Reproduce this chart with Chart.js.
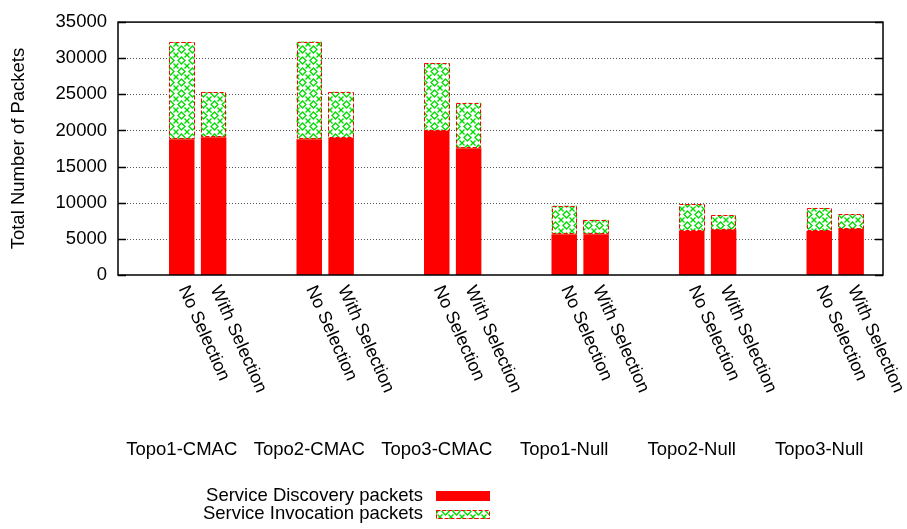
<!DOCTYPE html>
<html>
<head>
<meta charset="utf-8">
<script src="https://cdn.jsdelivr.net/npm/chart.js@4.4.0/dist/chart.umd.min.js"></script>
<style>
  html, body { margin: 0; padding: 0; background: #fff; }
  #wrap { width: 907px; height: 529px; }
</style>
</head>
<body>
<div id="wrap"><canvas id="c" width="907" height="529"></canvas></div>
<script>
// Topologies (one cluster each) and the two configurations inside each cluster
const groups = ['Topo1-CMAC', 'Topo2-CMAC', 'Topo3-CMAC', 'Topo1-Null', 'Topo2-Null', 'Topo3-Null'];
const variants = ['No Selection', 'With Selection'];
const seriesNames = ['Service Discovery packets', 'Service Invocation packets'];

// Packet counts per topology
const discoveryNoSel   = [18800, 18800, 19950, 5630, 6080, 6080];
const discoveryWithSel = [19050, 19000, 17550, 5630, 6260, 6350];
const invocationNoSel   = [13400, 13500, 9350, 3970, 3690, 3200];
const invocationWithSel = [6250, 6350, 6300, 2020, 1980, 2030];

// Y axis ticks
const yTicks = [0, 5000, 10000, 15000, 20000, 25000, 30000, 35000];

const FONT = '"Liberation Sans", Arial, Helvetica, sans-serif';
const FONT_SIZE = 18.5;
const ROT_FONT_SIZE = 18;
const RED = '#ff0000';
const GREEN = '#00dd00';

// slot index on the x axis: each cluster takes four slots, bars in the first two
const slotOf = (g, v) => g * 4 + v;

function buildSeries(noSel, withSel) {
  const pts = [];
  groups.forEach((_, g) => {
    pts.push({ x: slotOf(g, 0), y: noSel[g] });
    pts.push({ x: slotOf(g, 1), y: withSel[g] });
  });
  return pts;
}

// white tile with green diamonds and crosses
function makeHatch() {
  const s = 11;
  const t = document.createElement('canvas');
  t.width = s; t.height = s;
  const c = t.getContext('2d');
  c.fillStyle = '#fff';
  c.fillRect(0, 0, s, s);
  c.strokeStyle = GREEN;
  c.lineWidth = 1.4;
  c.beginPath();
  c.moveTo(5.5, 2); c.lineTo(9, 5.5); c.lineTo(5.5, 9); c.lineTo(2, 5.5); c.closePath();
  c.stroke();
  [[0, 0], [s, 0], [0, s], [s, s]].forEach(([cx, cy]) => {
    c.beginPath();
    c.moveTo(cx - 2.5, cy - 2.5); c.lineTo(cx + 2.5, cy + 2.5);
    c.moveTo(cx + 2.5, cy - 2.5); c.lineTo(cx - 2.5, cy + 2.5);
    c.stroke();
  });
  return document.getElementById('c').getContext('2d').createPattern(t, 'repeat');
}

const hatch = makeHatch();

// dotted grid behind the bars
const gridPlugin = {
  id: 'dottedGrid',
  beforeDatasetsDraw(chart) {
    const { ctx, chartArea: a, scales: { y } } = chart;
    ctx.save();
    ctx.strokeStyle = '#555';
    ctx.lineWidth = 1;
    ctx.setLineDash([1, 2]);
    yTicks.forEach(v => {
      if (v === yTicks[0] || v === yTicks[yTicks.length - 1]) return;
      const py = Math.round(y.getPixelForValue(v)) + 0.5;
      ctx.beginPath();
      ctx.moveTo(a.left, py);
      ctx.lineTo(a.right, py);
      ctx.stroke();
    });
    ctx.restore();
  }
};

// dashed outline of the invocation segments, frame, labels and legend
const decorPlugin = {
  id: 'decor',
  afterDatasetsDraw(chart) {
    const { ctx } = chart;
    const meta = chart.getDatasetMeta(1);
    ctx.save();
    ctx.strokeStyle = RED;
    ctx.lineWidth = 1;
    ctx.setLineDash([4, 2]);
    meta.data.forEach(bar => {
      const p = bar.getProps(['x', 'y', 'base', 'width'], true);
      const l = Math.round(p.x - p.width / 2) + 0.5;
      const r = Math.round(p.x + p.width / 2) - 0.5;
      const t = Math.round(p.y) + 0.5;
      const b = Math.round(p.base) - 0.5;
      ctx.beginPath();
      ctx.rect(l, t, r - l, b - t);
      ctx.stroke();
    });
    ctx.restore();
  },
  afterDraw(chart) {
    const { ctx, chartArea: a, scales: { x, y } } = chart;
    ctx.save();
    // frame
    ctx.strokeStyle = '#000';
    ctx.lineWidth = 1.5;
    ctx.strokeRect(a.left, a.top, a.right - a.left, a.bottom - a.top);
    // inward tick marks on both vertical axes
    yTicks.forEach(v => {
      const py = Math.round(y.getPixelForValue(v)) + 0.5;
      ctx.beginPath();
      ctx.moveTo(a.left, py); ctx.lineTo(a.left + 8, py);
      ctx.moveTo(a.right, py); ctx.lineTo(a.right - 8, py);
      ctx.stroke();
    });

    ctx.fillStyle = '#000';
    // rotated configuration labels under each bar
    ctx.font = ROT_FONT_SIZE + 'px ' + FONT;
    groups.forEach((_, g) => {
      variants.forEach((name, v) => {
        const px = x.getPixelForValue(slotOf(g, v));
        ctx.save();
        ctx.translate(px + 9.5, a.bottom + 8);
        ctx.rotate(66 * Math.PI / 180);
        ctx.textAlign = 'left';
        ctx.textBaseline = 'top';
        ctx.fillText(name, 0, 0);
        ctx.restore();
      });
    });
    // topology names under each cluster
    ctx.font = FONT_SIZE + 'px ' + FONT;
    ctx.textAlign = 'center';
    ctx.textBaseline = 'middle';
    groups.forEach((name, g) => {
      ctx.fillText(name, x.getPixelForValue(slotOf(g, 0)), 450);
    });

    // legend
    ctx.textAlign = 'right';
    ctx.fillText(seriesNames[0], 423, 496);
    ctx.fillText(seriesNames[1], 423, 514);
    ctx.fillStyle = RED;
    ctx.fillRect(436, 491, 54, 10);
    ctx.fillStyle = hatch;
    ctx.fillRect(436, 510, 54, 9);
    ctx.strokeStyle = RED;
    ctx.lineWidth = 1;
    ctx.setLineDash([4, 2]);
    ctx.strokeRect(436.5, 510.5, 53, 8);
    ctx.restore();
  }
};

new Chart(document.getElementById('c'), {
  type: 'bar',
  data: {
    datasets: [
      {
        label: seriesNames[0],
        data: buildSeries(discoveryNoSel, discoveryWithSel),
        backgroundColor: RED,
        borderWidth: 0
      },
      {
        label: seriesNames[1],
        data: buildSeries(invocationNoSel, invocationWithSel),
        backgroundColor: hatch,
        borderWidth: 0
      }
    ]
  },
  options: {
    responsive: false,
    animation: false,
    devicePixelRatio: 1,
    layout: { padding: { top: 16, right: 24, bottom: 254, left: 0 } },
    datasets: { bar: { barPercentage: 0.8, categoryPercentage: 1 } },
    plugins: { legend: { display: false }, tooltip: { enabled: false } },
    scales: {
      x: {
        type: 'linear',
        stacked: true,
        offset: false,
        min: -2,
        max: 22,
        display: false,
        grid: { offset: false },
        ticks: { stepSize: 1 }
      },
      y: {
        stacked: true,
        min: 0,
        max: 35000,
        afterFit(scale) { scale.width = 118; },
        afterBuildTicks(scale) { scale.ticks = yTicks.map(v => ({ value: v })); },
        grid: { display: false, drawTicks: false },
        border: { display: false },
        ticks: {
          padding: 11,
          color: '#000',
          font: { family: FONT, size: FONT_SIZE },
          callback: v => String(v)
        },
        title: {
          display: true,
          text: 'Total Number of Packets',
          color: '#000',
          font: { family: FONT, size: FONT_SIZE },
          padding: { top: 8, bottom: 0 }
        }
      }
    }
  },
  plugins: [gridPlugin, decorPlugin]
});
</script>
</body>
</html>
